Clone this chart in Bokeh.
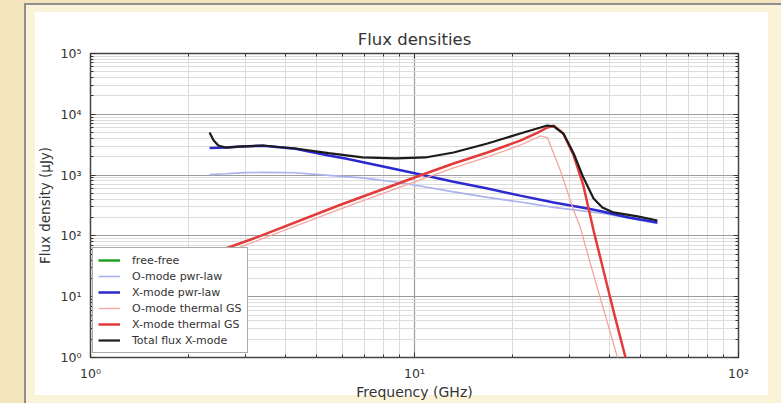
from bokeh.plotting import figure
from bokeh.models import FixedTicker, CustomJSTickFormatter, Range1d, LogAxis
from bokeh.embed import file_html
from bokeh.resources import INLINE

# ---------------- data ----------------
x_major_ticks = [1, 10, 100]
y_major_ticks = [1, 10, 100, 1000, 10000, 100000]

freq_free_free = [float("nan")]
flux_free_free = [float("nan")]

freq_o_pl = [2.33, 2.61, 3.0, 3.4, 4.29, 5.43, 6.91, 8.74, 10.4, 13.2, 16.8, 21.2, 26.9, 38.3, 56.2]
flux_o_pl = [1020, 1050, 1100, 1110, 1090, 990, 900, 770, 660, 530, 430, 360, 295, 234, 160]

freq_x_pl = [2.33, 2.61, 2.90, 3.40, 4.29, 5.43, 6.12, 7.74, 10.1, 13.2, 16.8, 21.2, 26.9, 34.2, 38.3, 45.0, 56.2]
flux_x_pl = [2800, 2840, 2950, 3050, 2720, 2100, 1875, 1440, 1060, 780, 600, 460, 355, 282, 250, 205, 166]

freq_o_th = [2.33, 5.83, 10.1, 13.2, 16.8, 21.2, 23.0, 24.5, 25.7, 28.2, 31.0, 32.5, 34.9, 42.3, 45.0]
flux_o_th = [42, 270, 790, 1320, 2000, 3100, 3800, 4400, 4150, 1190, 262, 137, 35, 1.0, 0.32]

freq_x_th = [2.33, 3.35, 5.83, 10.1, 13.2, 16.8, 21.2, 24.0, 25.7, 26.9, 28.8, 31.0, 33.2, 35.7, 38.3, 41.1, 44.8, 48.8]
flux_x_th = [50, 100, 316, 930, 1550, 2350, 3700, 5000, 6070, 6500, 4830, 2100, 675, 123, 27, 5.9, 1.0, 0.17]

freq_total = [2.33, 2.40, 2.48, 2.61, 2.90, 3.40, 4.29, 5.43, 6.91, 8.74, 10.8, 13.2, 16.8, 21.2, 25.7, 26.9,
              28.8, 31.0, 33.2, 35.7, 38.0, 41.1, 48.8, 56.2]
flux_total = [5030, 3700, 3070, 2840, 2950, 3070, 2740, 2300, 1950, 1880, 1950, 2350, 3310, 4830, 6540, 6310,
              4830, 2265, 910, 412, 293, 243, 209, 179]

# ---------------- figure ----------------
FONT = "DejaVu Sans"
outer = "#f3e4bd"
band = "#fbf3d8"
edge = "#8f8f8f"
page_bg = (
    "linear-gradient(#ffffff, #ffffff) 35px 12px / 733px 383px no-repeat, "
    f"linear-gradient({band}, {band}) 26px 5px / 755px 398px no-repeat, "
    f"linear-gradient({edge}, {edge}) 24px 3px / 757px 400px no-repeat, "
    f"{outer}"
)

p = figure(width=781, height=403, x_axis_type="log", y_axis_type="log",
           x_range=Range1d(1, 100), y_range=Range1d(1, 100000),
           output_backend="svg", toolbar_location=None,
           min_border_left=90, min_border_right=43, min_border_top=53, min_border_bottom=46,
           border_fill_color=None, background_fill_color="white",
           styles={"background": page_bg})

# mirrored tick-only axes on top and right
blank = CustomJSTickFormatter(code="return '';")
p.add_layout(LogAxis(formatter=blank, major_label_standoff=0), "above")
p.add_layout(LogAxis(formatter=blank, major_label_standoff=0), "right")

# ticks / grid
x_minor = [k * d for d in x_major_ticks[:-1] for k in range(2, 10)]
y_minor = [k * d for d in y_major_ticks[:-1] for k in range(2, 10)]
xt = FixedTicker(ticks=x_major_ticks, minor_ticks=x_minor)
yt = FixedTicker(ticks=y_major_ticks, minor_ticks=y_minor)
p.xaxis.ticker = xt
p.yaxis.ticker = yt
p.xgrid.ticker = xt
p.ygrid.ticker = yt

fmt_code = """
const sup = {'0':'\u2070','1':'\u00b9','2':'\u00b2','3':'\u00b3','4':'\u2074','5':'\u2075','6':'\u2076','-':'\u207b'};
const e = Math.round(Math.log10(tick));
return '10' + String(e).split('').map(c => sup[c]).join('');
"""
for ax in list(p.xaxis) + list(p.yaxis):
    ax.axis_line_color = None
    ax.major_tick_in = 5
    ax.major_tick_out = 0
    ax.minor_tick_in = 3
    ax.minor_tick_out = 0
    ax.major_tick_line_color = "#333333"
    ax.minor_tick_line_color = "#333333"
    ax.major_label_text_font = FONT
    ax.major_label_text_color = "#333333"
    ax.axis_label_text_font = FONT
    ax.axis_label_text_font_style = "normal"
    ax.axis_label_text_color = "#333333"

for ax in (p.below[0], p.left[0]):
    ax.formatter = CustomJSTickFormatter(code=fmt_code)
    ax.major_label_text_font_size = "12.5px"
for ax in (p.above[-1], p.right[0]):
    ax.major_label_text_font_size = "1px"

xb = p.below[0]
yl = p.left[0]
xb.axis_label = "Frequency (GHz)"
yl.axis_label = "Flux density (\u03bcJy)"
xb.axis_label_text_font_size = "14px"
yl.axis_label_text_font_size = "13.5px"
xb.major_label_standoff = 8
yl.major_label_standoff = 9
xb.axis_label_standoff = 0
yl.axis_label_standoff = 5

for g in (p.xgrid[0], p.ygrid[0]):
    g.grid_line_color = "#9c9c9c"
    g.grid_line_width = 1.2
    g.minor_grid_line_color = "#dcdcdc"
    g.minor_grid_line_width = 1

p.outline_line_color = "#444444"
p.outline_line_width = 1.5

p.title.text = "Flux densities"
p.title.align = "center"
p.title.text_font = FONT
p.title.text_font_size = "16.5px"
p.title.text_font_style = "normal"
p.title.text_color = "#333333"

# ---------------- series ----------------
p.line(freq_free_free, flux_free_free, line_color="#22a022", line_width=2.5, legend_label="free-free")
p.line(freq_o_pl, flux_o_pl, line_color="#a9b2ee", line_width=1.6, legend_label="O-mode pwr-law")
p.line(freq_x_pl, flux_x_pl, line_color="#2a2ad0", line_width=2.5, legend_label="X-mode pwr-law")
p.line(freq_o_th, flux_o_th, line_color="#f4a59e", line_width=1.3, legend_label="O-mode thermal GS")
p.line(freq_x_th, flux_x_th, line_color="#e43a3a", line_width=2.5, legend_label="X-mode thermal GS")
p.line(freq_total, flux_total, line_color="#1c1c1c", line_width=2.2, legend_label="Total flux X-mode")

lg = p.legend[0]
lg.location = (2, 4)
lg.label_text_font = FONT
lg.label_text_font_size = "11px"
lg.label_text_color = "#333333"
lg.label_height = 14
lg.glyph_height = 14
lg.glyph_width = 22
lg.label_standoff = 12
lg.spacing = 2
lg.padding = 5
lg.margin = 0
lg.border_line_color = "#555555"
lg.border_line_width = 1
lg.background_fill_color = "white"
lg.background_fill_alpha = 1.0

open("out.html", "w").write(file_html(p, INLINE))
